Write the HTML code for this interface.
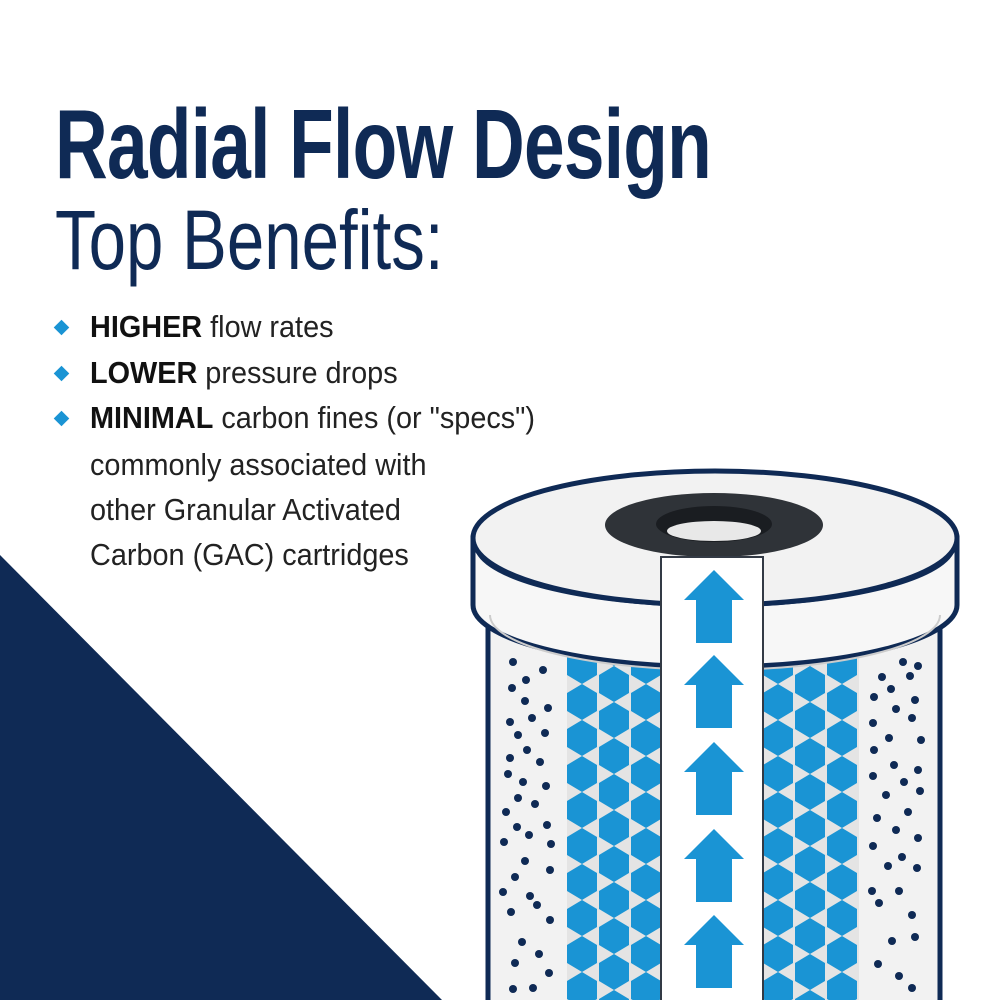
<!DOCTYPE html>
<html><head><meta charset="utf-8"><style>
html,body{margin:0;padding:0;background:#fff;}
body{width:1000px;height:1000px;position:relative;overflow:hidden;font-family:"Liberation Sans",sans-serif;color:#0f2a55;}
.t1{position:absolute;left:55px;top:88px;font-size:98px;font-weight:bold;transform:scaleX(0.745);transform-origin:left top;white-space:nowrap;letter-spacing:-1px;}
.t2{position:absolute;left:55px;top:192px;font-size:84px;transform:scaleX(0.8);transform-origin:left top;white-space:nowrap;}
.b{position:absolute;left:90px;font-size:31px;color:#222;transform:scaleX(0.93);transform-origin:left top;white-space:nowrap;}
.b b{color:#111;}
.d{position:absolute;left:56px;width:11px;height:11px;background:#1a94d4;transform:rotate(45deg);}
</style></head><body>
<svg width="1000" height="1000" style="position:absolute;left:0;top:0">
<defs>
<pattern id="hex" x="567" y="0" width="64" height="36" patternUnits="userSpaceOnUse">
<rect width="64" height="36" fill="#e4e4e4"/>
<polygon fill="#1a94d4" points="15,0 30,9 30,27 15,36 0,27 0,9"/>
<polygon fill="#1a94d4" points="47,-18 62,-9 62,9 47,18 32,9 32,-9"/>
<polygon fill="#1a94d4" points="47,18 62,27 62,45 47,54 32,45 32,27"/>
</pattern>
<pattern id="hex2" x="763" y="0" width="64" height="36" patternUnits="userSpaceOnUse">
<rect width="64" height="36" fill="#e4e4e4"/>
<polygon fill="#1a94d4" points="15,0 30,9 30,27 15,36 0,27 0,9"/>
<polygon fill="#1a94d4" points="47,-18 62,-9 62,9 47,18 32,9 32,-9"/>
<polygon fill="#1a94d4" points="47,18 62,27 62,45 47,54 32,45 32,27"/>
</pattern>
</defs>
<polygon points="0,555 0,1000 442,1000" fill="#0f2a55"/>
<!-- body -->
<rect x="488" y="600" width="452" height="420" fill="#f2f2f2" stroke="#0f2a55" stroke-width="5"/>
<rect x="567" y="650" width="94" height="360" fill="url(#hex)"/>
<rect x="763" y="650" width="96" height="360" fill="url(#hex2)"/>
<g fill="#0f2a55">
<circle cx="513" cy="662" r="4"/><circle cx="543" cy="670" r="4"/><circle cx="526" cy="680" r="4"/><circle cx="512" cy="688" r="4"/><circle cx="525" cy="701" r="4"/><circle cx="548" cy="708" r="4"/><circle cx="510" cy="722" r="4"/><circle cx="532" cy="718" r="4"/><circle cx="518" cy="735" r="4"/><circle cx="545" cy="733" r="4"/><circle cx="527" cy="750" r="4"/><circle cx="510" cy="758" r="4"/><circle cx="540" cy="762" r="4"/><circle cx="508" cy="774" r="4"/><circle cx="523" cy="782" r="4"/><circle cx="546" cy="786" r="4"/><circle cx="518" cy="798" r="4"/><circle cx="535" cy="804" r="4"/><circle cx="506" cy="812" r="4"/><circle cx="517" cy="827" r="4"/><circle cx="547" cy="825" r="4"/><circle cx="529" cy="835" r="4"/><circle cx="551" cy="844" r="4"/><circle cx="504" cy="842" r="4"/><circle cx="525" cy="861" r="4"/><circle cx="550" cy="870" r="4"/><circle cx="515" cy="877" r="4"/><circle cx="503" cy="892" r="4"/><circle cx="530" cy="896" r="4"/><circle cx="537" cy="905" r="4"/><circle cx="550" cy="920" r="4"/><circle cx="511" cy="912" r="4"/><circle cx="522" cy="942" r="4"/><circle cx="539" cy="954" r="4"/><circle cx="515" cy="963" r="4"/><circle cx="549" cy="973" r="4"/><circle cx="513" cy="989" r="4"/><circle cx="533" cy="988" r="4"/>
<circle cx="903" cy="662" r="4"/><circle cx="918" cy="666" r="4"/><circle cx="882" cy="677" r="4"/><circle cx="910" cy="676" r="4"/><circle cx="891" cy="689" r="4"/><circle cx="874" cy="697" r="4"/><circle cx="915" cy="700" r="4"/><circle cx="896" cy="709" r="4"/><circle cx="873" cy="723" r="4"/><circle cx="912" cy="718" r="4"/><circle cx="889" cy="738" r="4"/><circle cx="921" cy="740" r="4"/><circle cx="874" cy="750" r="4"/><circle cx="894" cy="765" r="4"/><circle cx="918" cy="770" r="4"/><circle cx="873" cy="776" r="4"/><circle cx="904" cy="782" r="4"/><circle cx="886" cy="795" r="4"/><circle cx="920" cy="791" r="4"/><circle cx="877" cy="818" r="4"/><circle cx="908" cy="812" r="4"/><circle cx="896" cy="830" r="4"/><circle cx="918" cy="838" r="4"/><circle cx="873" cy="846" r="4"/><circle cx="902" cy="857" r="4"/><circle cx="888" cy="866" r="4"/><circle cx="917" cy="868" r="4"/><circle cx="872" cy="891" r="4"/><circle cx="899" cy="891" r="4"/><circle cx="912" cy="915" r="4"/><circle cx="879" cy="903" r="4"/><circle cx="892" cy="941" r="4"/><circle cx="915" cy="937" r="4"/><circle cx="878" cy="964" r="4"/><circle cx="899" cy="976" r="4"/><circle cx="912" cy="988" r="4"/>
</g>
<!-- cap -->
<path d="M473,538 L473,605 A242,62 0 0 0 957,605 L957,538 Z" fill="#f7f7f7" stroke="#0f2a55" stroke-width="5"/>
<path d="M490,615 A225,55 0 0 0 940,615" fill="none" stroke="#ccc" stroke-width="2"/>
<ellipse cx="715" cy="538" rx="242" ry="67" fill="#f2f2f2" stroke="#0f2a55" stroke-width="5"/>
<path d="M476,550 A240,62 0 0 0 954,550" fill="none" stroke="#0f2a55" stroke-width="2"/>
<!-- ring -->
<ellipse cx="714" cy="525" rx="109" ry="32" fill="#2f3338"/>
<ellipse cx="714" cy="524" rx="58" ry="18" fill="#1a1d21"/>
<ellipse cx="714" cy="531" rx="47" ry="10" fill="#e8e8e8"/>
<!-- column -->
<rect x="661" y="557" width="102" height="450" fill="#fff" stroke="#333a45" stroke-width="2"/>
<g fill="#1a94d4">
<polygon points="714,570 744,600 732,600 732,643 696,643 696,600 684,600"/>
<polygon points="714,655 744,685 732,685 732,728 696,728 696,685 684,685"/>
<polygon points="714,742 744,772 732,772 732,815 696,815 696,772 684,772"/>
<polygon points="714,829 744,859 732,859 732,902 696,902 696,859 684,859"/>
<polygon points="714,915 744,945 732,945 732,988 696,988 696,945 684,945"/>
</g>
</svg>
<div class="t1">Radial Flow Design</div>
<div class="t2">Top Benefits:</div>
<div class="d" style="top:322px"></div><div class="b" style="top:309px"><b>HIGHER</b> flow rates</div>
<div class="d" style="top:368px"></div><div class="b" style="top:355px"><b>LOWER</b> pressure drops</div>
<div class="d" style="top:413px"></div><div class="b" style="top:400px"><b>MINIMAL</b> carbon fines (or "specs")</div>
<div class="b" style="top:447px">commonly associated with</div>
<div class="b" style="top:492px">other Granular Activated</div>
<div class="b" style="top:537px">Carbon (GAC) cartridges</div>
</body></html>
